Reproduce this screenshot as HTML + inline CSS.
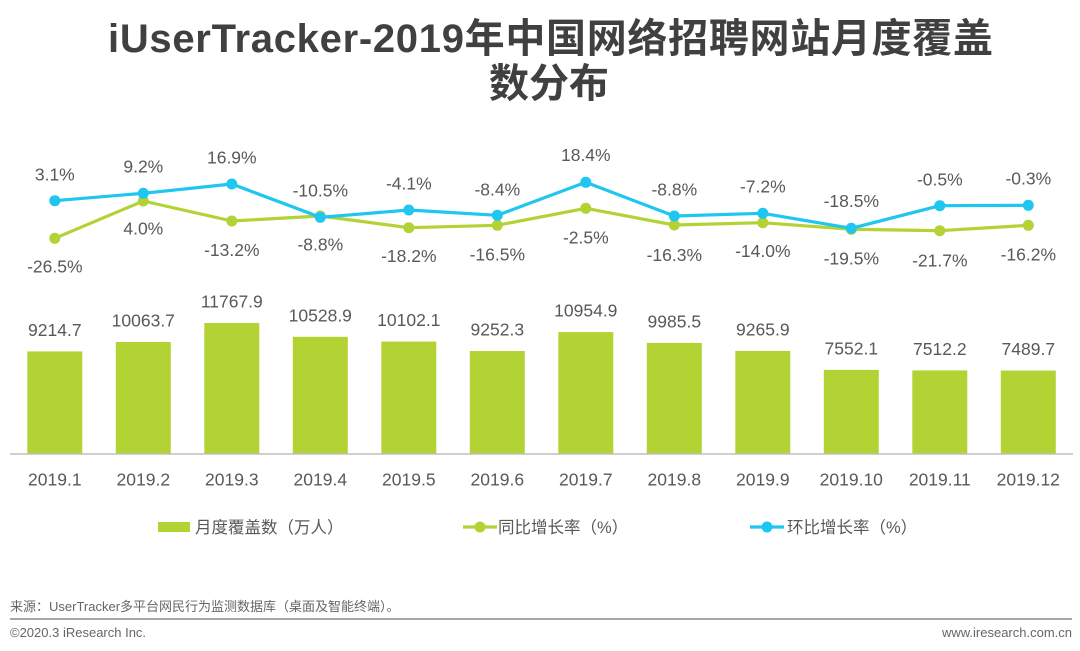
<!DOCTYPE html>
<html>
<head>
<meta charset="utf-8">
<style>
html,body{margin:0;padding:0;background:#ffffff;}
svg{display:block;}
text{font-family:"Liberation Sans","Noto Sans CJK SC",sans-serif;}
</style>
</head>
<body>
<svg width="1080" height="651" viewBox="0 0 1080 651" xmlns="http://www.w3.org/2000/svg">
<rect width="1080" height="651" fill="#ffffff"/>

<!-- Title -->
<text x="108" y="52" font-size="40" font-weight="bold" fill="#404040" textLength="885" lengthAdjust="spacing">iUserTracker-2019年中国网络招聘网站月度覆盖</text>
<text x="549" y="97" font-size="40" font-weight="bold" fill="#404040" text-anchor="middle">数分布</text>

<!-- Bars -->
<g fill="#b3d234">
<rect x="27.3" y="351.4" width="55" height="102.6"/>
<rect x="115.8" y="342.0" width="55" height="112.0"/>
<rect x="204.3" y="323.0" width="55" height="131.0"/>
<rect x="292.8" y="336.8" width="55" height="117.2"/>
<rect x="381.3" y="341.6" width="55" height="112.4"/>
<rect x="469.8" y="351.0" width="55" height="103.0"/>
<rect x="558.3" y="332.1" width="55" height="121.9"/>
<rect x="646.8" y="342.9" width="55" height="111.1"/>
<rect x="735.3" y="350.9" width="55" height="103.1"/>
<rect x="823.8" y="369.9" width="55" height="84.1"/>
<rect x="912.3" y="370.4" width="55" height="83.6"/>
<rect x="1000.8" y="370.6" width="55" height="83.4"/>
</g>

<!-- Axis -->
<line x1="10" y1="454" x2="1073" y2="454" stroke="#bfbfbf" stroke-width="1.5"/>

<!-- Bar value labels -->
<g font-size="17.5" fill="#595959" text-anchor="middle">
<text x="54.8" y="336">9214.7</text>
<text x="143.3" y="326.6">10063.7</text>
<text x="231.8" y="307.6">11767.9</text>
<text x="320.3" y="321.4">10528.9</text>
<text x="408.8" y="326.2">10102.1</text>
<text x="497.3" y="335.6">9252.3</text>
<text x="585.8" y="316.7">10954.9</text>
<text x="674.3" y="327.5">9985.5</text>
<text x="762.8" y="335.5">9265.9</text>
<text x="851.3" y="354.5">7552.1</text>
<text x="939.8" y="355">7512.2</text>
<text x="1028.3" y="355.2">7489.7</text>
</g>

<!-- Category labels -->
<g font-size="17.5" fill="#595959" text-anchor="middle">
<text x="54.8" y="485.5">2019.1</text>
<text x="143.3" y="485.5">2019.2</text>
<text x="231.8" y="485.5">2019.3</text>
<text x="320.3" y="485.5">2019.4</text>
<text x="408.8" y="485.5">2019.5</text>
<text x="497.3" y="485.5">2019.6</text>
<text x="585.8" y="485.5">2019.7</text>
<text x="674.3" y="485.5">2019.8</text>
<text x="762.8" y="485.5">2019.9</text>
<text x="851.3" y="485.5">2019.10</text>
<text x="939.8" y="485.5">2019.11</text>
<text x="1028.3" y="485.5">2019.12</text>
</g>

<!-- Green line (YoY) -->
<polyline fill="none" stroke="#b2d235" stroke-width="3.2" stroke-linejoin="round"
 points="54.8,238.3 143.3,201 231.8,221 320.3,216 408.8,227.7 497.3,225.3 585.8,208.3 674.3,225 762.8,222.7 851.3,229.3 939.8,230.7 1028.3,225.3"/>
<g fill="#b2d235">
<circle cx="54.8" cy="238.3" r="5.5"/>
<circle cx="143.3" cy="201" r="5.5"/>
<circle cx="231.8" cy="221" r="5.5"/>
<circle cx="320.3" cy="216" r="5.5"/>
<circle cx="408.8" cy="227.7" r="5.5"/>
<circle cx="497.3" cy="225.3" r="5.5"/>
<circle cx="585.8" cy="208.3" r="5.5"/>
<circle cx="674.3" cy="225" r="5.5"/>
<circle cx="762.8" cy="222.7" r="5.5"/>
<circle cx="851.3" cy="229.3" r="5.5"/>
<circle cx="939.8" cy="230.7" r="5.5"/>
<circle cx="1028.3" cy="225.3" r="5.5"/>
</g>

<!-- Blue line (MoM) -->
<polyline fill="none" stroke="#1fc6ef" stroke-width="3.2" stroke-linejoin="round"
 points="54.8,200.7 143.3,193.3 231.8,184 320.3,217.3 408.8,210 497.3,215.3 585.8,182.3 674.3,216 762.8,213.3 851.3,228.3 939.8,205.7 1028.3,205.3"/>
<g fill="#1fc6ef">
<circle cx="54.8" cy="200.7" r="5.5"/>
<circle cx="143.3" cy="193.3" r="5.5"/>
<circle cx="231.8" cy="184" r="5.5"/>
<circle cx="320.3" cy="217.3" r="5.5"/>
<circle cx="408.8" cy="210" r="5.5"/>
<circle cx="497.3" cy="215.3" r="5.5"/>
<circle cx="585.8" cy="182.3" r="5.5"/>
<circle cx="674.3" cy="216" r="5.5"/>
<circle cx="762.8" cy="213.3" r="5.5"/>
<circle cx="851.3" cy="228.3" r="5.5"/>
<circle cx="939.8" cy="205.7" r="5.5"/>
<circle cx="1028.3" cy="205.3" r="5.5"/>
</g>

<!-- Blue labels -->
<g font-size="17.5" fill="#595959" text-anchor="middle">
<text x="54.8" y="180.3">3.1%</text>
<text x="143.3" y="172.7">9.2%</text>
<text x="231.8" y="163.3">16.9%</text>
<text x="320.3" y="196.7">-10.5%</text>
<text x="408.8" y="189.3">-4.1%</text>
<text x="497.3" y="195.3">-8.4%</text>
<text x="585.8" y="161">18.4%</text>
<text x="674.3" y="195.3">-8.8%</text>
<text x="762.8" y="192.7">-7.2%</text>
<text x="851.3" y="207">-18.5%</text>
<text x="939.8" y="185.3">-0.5%</text>
<text x="1028.3" y="184.3">-0.3%</text>
</g>

<!-- Green labels -->
<g font-size="17.5" fill="#595959" text-anchor="middle">
<text x="54.8" y="272.7">-26.5%</text>
<text x="143.3" y="234.3">4.0%</text>
<text x="231.8" y="256">-13.2%</text>
<text x="320.3" y="250.3">-8.8%</text>
<text x="408.8" y="262">-18.2%</text>
<text x="497.3" y="260.3">-16.5%</text>
<text x="585.8" y="243.7">-2.5%</text>
<text x="674.3" y="261">-16.3%</text>
<text x="762.8" y="257">-14.0%</text>
<text x="851.3" y="264.3">-19.5%</text>
<text x="939.8" y="266.7">-21.7%</text>
<text x="1028.3" y="260.3">-16.2%</text>
</g>

<!-- Legend -->
<rect x="158" y="522" width="32" height="10" fill="#b3d234"/>
<text x="195" y="533" font-size="16.5" fill="#595959">月度覆盖数（万人）</text>

<line x1="463" y1="527" x2="497" y2="527" stroke="#b2d235" stroke-width="3.2"/>
<circle cx="480" cy="527" r="5.5" fill="#b2d235"/>
<text x="498" y="533" font-size="16.5" fill="#595959">同比增长率（%）</text>

<line x1="750" y1="527" x2="784" y2="527" stroke="#1fc6ef" stroke-width="3.2"/>
<circle cx="767" cy="527" r="5.5" fill="#1fc6ef"/>
<text x="787" y="533" font-size="16.5" fill="#595959">环比增长率（%）</text>

<!-- Footer -->
<text x="10" y="611" font-size="13" fill="#666666">来源：UserTracker多平台网民行为监测数据库（桌面及智能终端）。</text>
<line x1="10" y1="619" x2="1072" y2="619" stroke="#a6a6a6" stroke-width="2"/>
<text x="10" y="637" font-size="13" fill="#666666">©2020.3 iResearch Inc.</text>
<text x="1072" y="637" font-size="13" fill="#666666" text-anchor="end">www.iresearch.com.cn</text>
</svg>
</body>
</html>
